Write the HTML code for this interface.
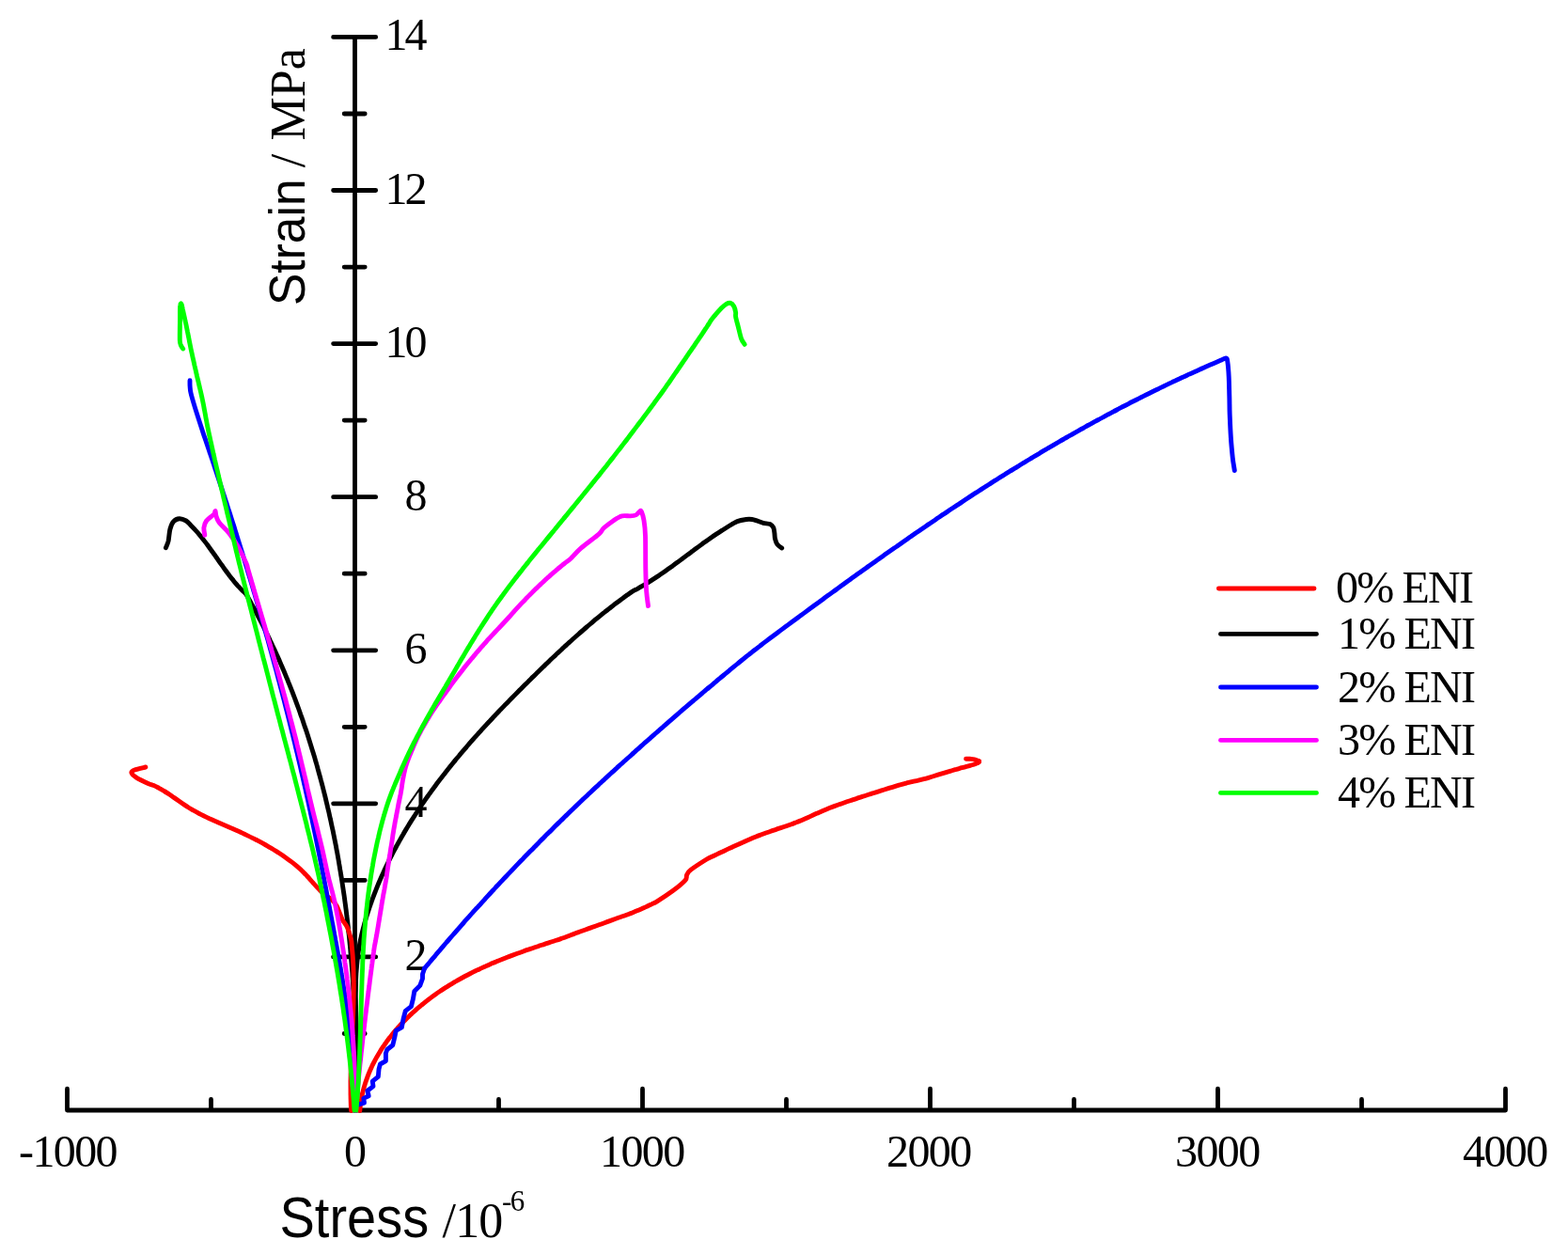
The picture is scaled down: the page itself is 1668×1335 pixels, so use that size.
<!DOCTYPE html>
<html lang="en">
<head>
<meta charset="utf-8">
<title>Stress-strain curves</title>
<style>
html,body{margin:0;padding:0;background:#fff;}
body{width:1668px;height:1335px;overflow:hidden;}
svg{display:block;}
.ser{font-family:"Liberation Serif",serif;fill:#000;}
.san{font-family:"Liberation Sans",sans-serif;fill:#000;}
.ax{stroke:#000;stroke-width:4.8;stroke-linecap:round;fill:none;}
.cv{fill:none;stroke-width:4.9;stroke-linecap:round;stroke-linejoin:round;}
</style>
</head>
<body>
<svg width="1668" height="1335" viewBox="0 0 1668 1335">
<rect width="1668" height="1335" fill="#fff"/>
<g class="axes"><path class="ax" d="M71.5,1181.0H1601.5M71.5,1181.0V1158.2M224.5,1181.0V1169.4M377.5,1181.0V1158.2M530.5,1181.0V1169.4M683.5,1181.0V1158.2M836.5,1181.0V1169.4M989.5,1181.0V1158.2M1142.5,1181.0V1169.4M1295.5,1181.0V1158.2M1448.5,1181.0V1169.4M1601.5,1181.0V1158.2M377.5,1181.0V39.4M366.2,1099.5H388.2M354.6,1017.9H399.7M366.2,936.4H388.2M354.6,854.8H399.7M366.2,773.3H388.2M354.6,691.8H399.7M366.2,610.2H388.2M354.6,528.7H399.7M366.2,447.1H388.2M354.6,365.6H399.7M366.2,284.1H388.2M354.6,202.5H399.7M366.2,121.0H388.2M354.6,39.4H399.7"/></g>
<g class="ser" font-size="48" letter-spacing="-1.6">
<text x="20.0" y="1241.0">-1000</text>
<text x="366.0" y="1241.0">0</text>
<text x="638.0" y="1241.0">1000</text>
<text x="943.0" y="1241.0">2000</text>
<text x="1250.0" y="1241.0">3000</text>
<text x="1556.0" y="1241.0">4000</text>
<text x="430.5" y="1031.9">2</text>
<text x="430.5" y="868.8">4</text>
<text x="430.5" y="705.8">6</text>
<text x="430.5" y="542.7">8</text>
<text x="409.5" y="379.6" letter-spacing="-3.1">10</text>
<text x="409.5" y="216.5" letter-spacing="-3.1">12</text>
<text x="409.5" y="53.4" letter-spacing="-3.1">14</text>
</g>
<text class="san" font-size="56" transform="translate(297.5,1315.9) scale(1,1.075)">Stress</text><text class="ser" font-size="52" letter-spacing="-0.8" x="470.5" y="1315.8">/10</text><text class="ser" font-size="31" letter-spacing="-1.5" x="534" y="1288.3">-6</text>
<g transform="translate(323.8,0) rotate(-90)"><text class="san" font-size="51.5" transform="translate(-325,0) scale(1,1.05)">Strain</text><text class="ser" font-size="52" x="-178.2" y="0">/</text><text class="ser" font-size="52" x="-149.5" y="0">MPa</text></g>
<g class="cv" stroke="#000000">
<path d="M377.5,1181.0C377.5,1180.0 377.6,1177.0 377.7,1174.9C377.7,1172.9 377.8,1170.9 377.8,1168.9C377.9,1166.9 377.9,1164.8 378.0,1162.8C378.0,1160.8 378.0,1158.8 378.1,1156.7C378.1,1154.7 378.1,1152.7 378.2,1150.7C378.2,1148.6 378.2,1146.6 378.2,1144.6C378.2,1142.5 378.2,1140.5 378.2,1138.5C378.2,1136.5 378.3,1134.4 378.2,1132.4C378.2,1130.4 378.2,1128.3 378.2,1126.3C378.2,1124.3 378.2,1122.2 378.2,1120.2C378.2,1118.2 378.1,1116.1 378.1,1114.1C378.1,1112.1 378.1,1110.0 378.0,1108.0C378.0,1106.0 377.9,1103.9 377.9,1101.9C377.9,1099.9 377.8,1097.8 377.8,1095.8C377.7,1093.8 377.6,1091.7 377.6,1089.7C377.5,1087.7 377.4,1085.6 377.4,1083.6C377.3,1081.5 377.2,1079.5 377.1,1077.5C377.1,1075.4 377.0,1073.4 376.9,1071.4C376.8,1069.3 376.7,1067.3 376.6,1065.2C376.5,1063.2 376.4,1061.2 376.3,1059.1C376.2,1057.1 376.1,1055.1 375.9,1053.0C375.8,1051.0 375.7,1048.9 375.6,1046.9C375.4,1044.9 375.3,1042.8 375.2,1040.8C375.0,1038.8 374.9,1036.7 374.8,1034.7C374.6,1032.7 374.5,1030.6 374.3,1028.6C374.1,1026.5 374.0,1024.5 373.8,1022.5C373.6,1020.4 373.5,1018.4 373.3,1016.4C373.1,1014.3 372.9,1012.3 372.8,1010.3C372.6,1008.2 372.4,1006.2 372.2,1004.2C372.0,1002.1 371.8,1000.1 371.6,998.1C371.4,996.0 371.2,994.0 370.9,992.0C370.7,989.9 370.5,987.9 370.3,985.9C370.0,983.9 369.8,981.8 369.6,979.8C369.3,977.8 369.1,975.7 368.8,973.7C368.6,971.7 368.3,969.7 368.1,967.6C367.8,965.6 367.6,963.6 367.3,961.6C367.0,959.5 366.7,957.5 366.5,955.5C366.2,953.5 365.9,951.4 365.6,949.4C365.3,947.4 365.0,945.4 364.7,943.4C364.4,941.4 364.1,939.3 363.8,937.3C363.5,935.3 363.2,933.3 362.8,931.3C362.5,929.3 362.2,927.2 361.8,925.2C361.5,923.2 361.2,921.2 360.8,919.2C360.5,917.2 360.1,915.2 359.8,913.2C359.4,911.2 359.1,909.1 358.7,907.1C358.3,905.1 357.9,903.1 357.6,901.1C357.2,899.1 356.8,897.1 356.4,895.1C356.0,893.1 355.6,891.1 355.2,889.1C354.8,887.1 354.4,885.1 354.0,883.1C353.6,881.1 353.1,879.1 352.7,877.2C352.3,875.2 351.9,873.2 351.4,871.2C351.0,869.2 350.5,867.2 350.1,865.2C349.6,863.2 349.2,861.2 348.7,859.3C348.3,857.3 347.8,855.3 347.3,853.3C346.8,851.3 346.4,849.4 345.9,847.4C345.4,845.4 344.9,843.4 344.4,841.5C343.9,839.5 343.4,837.5 342.9,835.5C342.4,833.6 341.9,831.6 341.3,829.6C340.8,827.7 340.3,825.7 339.7,823.8C339.2,821.8 338.7,819.8 338.1,817.9C337.6,815.9 337.0,814.0 336.5,812.0C335.9,810.1 335.3,808.1 334.8,806.1C334.2,804.2 333.6,802.3 333.0,800.3C332.4,798.4 331.8,796.4 331.2,794.5C330.6,792.5 330.0,790.6 329.4,788.7C328.8,786.7 328.2,784.8 327.6,782.9C326.9,780.9 326.3,779.0 325.7,777.1C325.0,775.1 324.4,773.2 323.7,771.3C323.1,769.4 322.4,767.4 321.8,765.5C321.1,763.6 320.4,761.7 319.7,759.8C319.1,757.9 318.4,755.9 317.7,754.0C317.0,752.1 316.3,750.2 315.6,748.3C314.9,746.4 314.2,744.5 313.5,742.6C312.7,740.7 312.0,738.8 311.3,736.9C310.6,735.0 309.8,733.1 309.1,731.3C308.3,729.4 307.6,727.5 306.8,725.6C306.1,723.7 305.3,721.8 304.5,720.0C303.7,718.1 303.0,716.2 302.2,714.3C301.4,712.5 300.6,710.6 299.8,708.7C299.0,706.9 298.2,705.0 297.4,703.1C296.6,701.3 295.7,699.4 294.9,697.6C294.1,695.7 293.2,693.9 292.4,692.0C291.6,690.2 290.7,688.3 289.8,686.5C289.0,684.6 288.1,682.8 287.2,681.0C286.4,679.1 285.5,677.3 284.6,675.5C283.7,673.6 282.8,671.8 281.9,670.0C281.0,668.2 280.1,666.3 279.2,664.5C278.3,662.7 277.4,660.9 276.4,659.1C275.5,657.3 274.6,655.5 273.6,653.7C272.7,651.9 271.7,650.1 270.8,648.3C269.8,646.5 268.8,644.7 267.8,642.9C266.9,641.1 265.9,639.3 264.9,637.5C263.9,635.8 263.2,633.9 261.9,632.2C260.6,630.5 258.7,629.1 257.1,627.5C255.5,625.9 254.0,624.2 252.5,622.6C251.1,620.9 249.6,619.2 248.2,617.4C246.8,615.7 245.4,614.0 244.0,612.2C242.7,610.4 241.3,608.6 240.0,606.8C238.7,605.0 237.4,603.1 236.1,601.3C234.7,599.5 233.4,597.6 232.2,595.8C230.9,593.9 229.6,592.1 228.3,590.2C227.0,588.4 225.7,586.6 224.3,584.7C223.0,582.9 221.7,581.1 220.4,579.3C219.0,577.5 217.7,575.7 216.3,573.9C214.9,572.1 213.5,570.4 212.0,568.6C210.6,566.9 209.1,565.2 207.6,563.6C206.1,561.9 204.5,560.3 202.9,558.7C201.3,557.1 200.0,555.1 198.0,554.0C196.0,552.9 193.0,551.7 190.8,551.8C188.6,551.9 186.2,553.0 184.5,554.9C182.8,556.8 181.8,559.6 180.9,563.0C180.0,566.4 179.8,572.2 179.1,575.5C178.3,578.8 176.8,581.5 176.4,582.7"/>
<path d="M378.5,1181.0C378.6,1180.0 379.0,1177.1 379.2,1175.1C379.4,1173.1 379.5,1171.1 379.7,1169.2C379.8,1167.2 380.0,1165.2 380.1,1163.2C380.2,1161.2 380.3,1159.2 380.4,1157.2C380.4,1155.2 380.5,1153.2 380.5,1151.2C380.6,1149.2 380.6,1147.2 380.6,1145.2C380.6,1143.2 380.6,1141.1 380.6,1139.1C380.6,1137.1 380.6,1135.1 380.6,1133.1C380.5,1131.0 380.5,1129.0 380.4,1127.0C380.4,1124.9 380.3,1122.9 380.3,1120.9C380.2,1118.8 380.1,1116.8 380.1,1114.8C380.0,1112.7 379.9,1110.7 379.8,1108.7C379.8,1106.6 379.7,1104.6 379.6,1102.5C379.5,1100.5 379.4,1098.5 379.3,1096.4C379.3,1094.4 379.2,1092.3 379.1,1090.3C379.0,1088.2 378.9,1086.2 378.9,1084.2C378.8,1082.1 378.7,1080.1 378.7,1078.0C378.6,1076.0 378.5,1074.0 378.5,1071.9C378.5,1069.9 378.4,1067.8 378.4,1065.8C378.4,1063.8 378.3,1061.7 378.3,1059.7C378.3,1057.7 378.3,1055.6 378.4,1053.6C378.4,1051.6 378.4,1049.5 378.5,1047.5C378.5,1045.5 378.6,1043.5 378.6,1041.5C378.7,1039.4 378.8,1037.4 378.9,1035.4C379.1,1033.4 379.2,1031.4 379.4,1029.4C379.5,1027.4 379.7,1025.4 379.9,1023.4C380.1,1021.4 380.3,1019.4 380.6,1017.4C380.8,1015.4 381.1,1013.4 381.4,1011.4C381.7,1009.5 382.0,1007.5 382.4,1005.5C382.7,1003.5 383.1,1001.6 383.5,999.6C383.9,997.7 384.4,995.7 384.8,993.8C385.3,991.8 385.8,989.9 386.3,987.9C386.8,986.0 387.3,984.0 387.8,982.1C388.4,980.2 388.9,978.2 389.5,976.3C390.1,974.4 390.7,972.5 391.3,970.5C391.9,968.6 392.6,966.7 393.2,964.8C393.9,962.9 394.5,961.0 395.2,959.1C395.9,957.2 396.6,955.3 397.3,953.4C398.0,951.5 398.7,949.6 399.5,947.7C400.2,945.9 401.0,944.0 401.7,942.1C402.5,940.2 403.3,938.4 404.1,936.5C404.9,934.7 405.7,932.8 406.5,931.0C407.4,929.1 408.2,927.3 409.1,925.4C409.9,923.6 410.8,921.7 411.7,919.9C412.5,918.1 413.4,916.3 414.3,914.4C415.2,912.6 416.1,910.8 417.1,909.0C418.0,907.2 418.9,905.4 419.9,903.6C420.9,901.8 421.8,900.0 422.8,898.3C423.8,896.5 424.8,894.7 425.8,892.9C426.8,891.2 427.8,889.4 428.8,887.7C429.8,885.9 430.8,884.2 431.9,882.4C432.9,880.7 433.9,879.0 435.0,877.2C436.1,875.5 437.1,873.8 438.2,872.1C439.3,870.4 440.4,868.7 441.5,867.0C442.6,865.3 443.7,863.6 444.8,861.9C445.9,860.2 447.0,858.6 448.1,856.9C449.3,855.2 450.4,853.6 451.6,851.9C452.7,850.3 453.9,848.6 455.0,847.0C456.2,845.3 457.4,843.7 458.5,842.1C459.7,840.4 460.9,838.8 462.1,837.2C463.3,835.6 464.5,833.9 465.7,832.3C466.9,830.7 468.1,829.1 469.4,827.5C470.6,825.9 471.8,824.3 473.1,822.8C474.3,821.2 475.5,819.6 476.8,818.0C478.1,816.4 479.3,814.9 480.6,813.3C481.8,811.7 483.1,810.2 484.4,808.6C485.7,807.1 487.0,805.5 488.3,804.0C489.5,802.4 490.8,800.9 492.1,799.4C493.5,797.8 494.8,796.3 496.1,794.8C497.4,793.3 498.7,791.7 500.0,790.2C501.4,788.7 502.7,787.2 504.0,785.7C505.4,784.2 506.7,782.7 508.1,781.2C509.4,779.7 510.8,778.2 512.1,776.7C513.5,775.2 514.8,773.7 516.2,772.2C517.6,770.7 518.9,769.2 520.3,767.8C521.7,766.3 523.1,764.8 524.4,763.3C525.8,761.9 527.2,760.4 528.6,758.9C530.0,757.5 531.4,756.0 532.8,754.6C534.2,753.1 535.6,751.7 537.0,750.2C538.4,748.7 539.8,747.3 541.2,745.9C542.6,744.4 544.0,743.0 545.5,741.5C546.9,740.1 548.3,738.6 549.7,737.2C551.2,735.8 552.6,734.3 554.0,732.9C555.4,731.5 556.9,730.0 558.3,728.6C559.7,727.2 561.2,725.8 562.6,724.3C564.0,722.9 565.5,721.5 566.9,720.1C568.4,718.7 569.8,717.3 571.2,715.8C572.7,714.4 574.1,713.0 575.6,711.6C577.0,710.2 578.5,708.8 579.9,707.4C581.4,706.0 582.9,704.6 584.3,703.2C585.8,701.8 587.2,700.4 588.7,699.0C590.2,697.6 591.6,696.2 593.1,694.8C594.6,693.5 596.1,692.1 597.6,690.7C599.0,689.3 600.5,688.0 602.0,686.6C603.5,685.2 605.0,683.9 606.5,682.5C608.0,681.2 609.5,679.8 611.0,678.5C612.5,677.1 614.0,675.8 615.5,674.5C617.0,673.1 618.5,671.8 620.1,670.5C621.6,669.1 623.1,667.8 624.7,666.5C626.2,665.2 627.7,663.9 629.3,662.6C630.8,661.3 632.4,660.0 633.9,658.7C635.5,657.4 637.0,656.2 638.6,654.9C640.2,653.6 641.7,652.3 643.3,651.1C644.9,649.8 646.5,648.6 648.1,647.3C649.6,646.1 651.2,644.9 652.8,643.6C654.4,642.4 656.1,641.2 657.7,640.0C659.3,638.8 660.9,637.6 662.5,636.4C664.2,635.2 665.8,634.0 667.4,632.8C669.1,631.6 670.6,630.4 672.4,629.3C674.2,628.2 676.2,627.3 678.1,626.3C679.9,625.3 681.8,624.2 683.6,623.1C685.5,622.1 687.3,621.0 689.1,619.8C690.9,618.7 692.7,617.6 694.5,616.4C696.3,615.3 698.1,614.1 699.9,612.9C701.6,611.7 703.4,610.5 705.2,609.3C706.9,608.1 708.7,606.8 710.4,605.6C712.1,604.4 713.9,603.1 715.6,601.9C717.3,600.6 719.1,599.3 720.8,598.1C722.5,596.8 724.2,595.5 726.0,594.2C727.7,593.0 729.4,591.7 731.1,590.4C732.8,589.1 734.5,587.9 736.3,586.6C738.0,585.3 739.7,584.0 741.4,582.8C743.2,581.5 744.9,580.2 746.6,579.0C748.3,577.7 750.1,576.5 751.8,575.2C753.6,574.0 755.3,572.8 757.1,571.5C758.8,570.3 760.6,569.1 762.4,567.9C764.2,566.8 766.0,565.6 767.8,564.4C769.6,563.3 771.4,562.1 773.2,561.0C775.0,559.9 776.8,558.8 778.7,557.7C780.6,556.7 781.8,555.5 784.3,554.6C786.8,553.7 791.3,552.9 793.9,552.5C796.5,552.1 797.9,552.2 799.9,552.5C801.9,552.8 803.9,553.6 805.9,554.2C807.9,554.9 809.7,555.8 811.9,556.4C814.1,557.0 817.3,556.8 819.1,557.6C820.9,558.4 821.9,559.6 822.7,561.2C823.5,562.8 823.6,565.1 823.9,567.1C824.2,569.1 824.0,571.1 824.5,573.1C825.0,575.1 825.7,577.5 826.9,579.1C828.1,580.8 830.9,582.4 831.7,583.0"/>
</g>
<g class="cv" stroke="#ff0000">
<path d="M373.6,1181.5C373.6,1180.5 373.4,1177.3 373.3,1175.2C373.2,1173.1 373.2,1171.0 373.1,1168.9C373.1,1166.8 373.0,1164.8 373.0,1162.7C373.0,1160.6 373.0,1158.5 373.0,1156.4C373.0,1154.3 373.0,1152.2 373.0,1150.1C373.0,1148.0 373.1,1145.9 373.1,1143.8C373.1,1141.7 373.2,1139.6 373.2,1137.5C373.3,1135.4 373.4,1133.3 373.4,1131.2C373.5,1129.1 373.6,1127.0 373.6,1124.9C373.7,1122.8 373.8,1120.7 373.9,1118.6C374.0,1116.6 374.1,1114.5 374.2,1112.4C374.3,1110.3 374.4,1108.2 374.5,1106.1C374.6,1104.0 374.7,1101.9 374.7,1099.8C374.8,1097.7 374.9,1095.6 375.0,1093.5C375.1,1091.4 375.2,1089.3 375.3,1087.2C375.4,1085.1 375.5,1083.0 375.6,1080.9C375.6,1078.8 375.7,1076.7 375.8,1074.6C375.9,1072.5 375.9,1070.4 376.0,1068.3C376.0,1066.3 376.1,1064.2 376.1,1062.1C376.2,1060.0 376.2,1057.9 376.2,1055.8C376.3,1053.7 376.3,1051.6 376.3,1049.5C376.3,1047.4 376.3,1045.3 376.2,1043.2C376.2,1041.1 376.2,1039.1 376.1,1037.0C376.1,1034.9 376.0,1032.8 376.0,1030.7C375.9,1028.6 375.8,1026.5 375.7,1024.4C375.6,1022.3 375.4,1020.3 375.3,1018.2C375.2,1016.1 375.0,1014.0 374.8,1011.9C374.6,1009.8 374.4,1007.7 374.2,1005.7C374.0,1003.6 374.3,1002.6 373.5,999.4C372.7,996.2 370.9,989.8 369.3,986.2C367.7,982.6 365.9,981.6 364.0,977.8C362.1,974.0 360.0,967.1 358.0,963.5C356.0,959.9 353.9,958.1 352.0,956.3C350.1,954.5 348.4,954.0 346.8,952.7C345.1,951.5 343.5,950.1 342.0,948.6C340.5,947.2 339.0,945.7 337.6,944.2C336.2,942.7 334.8,941.1 333.4,939.5C332.0,938.0 330.7,936.4 329.3,934.8C327.9,933.3 326.5,931.7 325.1,930.2C323.6,928.7 322.2,927.2 320.7,925.8C319.2,924.3 317.6,922.9 316.1,921.6C314.5,920.2 312.9,918.9 311.2,917.6C309.6,916.4 307.9,915.1 306.2,913.9C304.5,912.7 302.8,911.5 301.1,910.3C299.4,909.1 297.6,908.0 295.9,906.8C294.1,905.7 292.4,904.6 290.6,903.5C288.8,902.4 287.0,901.4 285.2,900.3C283.4,899.3 281.5,898.2 279.7,897.2C277.9,896.2 276.0,895.2 274.1,894.2C272.3,893.3 270.4,892.3 268.5,891.4C266.7,890.4 264.8,889.5 262.9,888.6C261.0,887.7 259.1,886.8 257.2,885.9C255.3,885.0 253.3,884.2 251.4,883.3C249.5,882.5 247.6,881.6 245.7,880.8C243.7,879.9 241.8,879.1 239.9,878.3C238.0,877.5 236.0,876.6 234.1,875.8C232.2,875.0 230.3,874.1 228.4,873.3C226.5,872.4 224.6,871.5 222.7,870.7C220.8,869.8 218.9,868.9 217.0,868.0C215.2,867.1 213.3,866.1 211.5,865.2C209.6,864.2 207.8,863.2 206.0,862.2C204.2,861.1 202.4,860.1 200.6,859.0C198.8,857.9 197.1,856.7 195.4,855.6C193.6,854.4 191.9,853.2 190.2,852.0C188.5,850.8 186.8,849.6 185.0,848.4C183.3,847.2 181.6,846.0 179.8,844.8C178.1,843.7 176.4,842.5 174.6,841.5C172.8,840.4 171.0,839.3 169.1,838.3C167.3,837.4 165.4,836.4 163.5,835.6C161.6,834.8 160.7,834.8 157.6,833.4C154.5,832.0 148.0,829.0 145.0,827.1C142.0,825.2 140.2,823.5 139.9,822.1C139.6,820.8 140.7,820.0 143.2,819.0C145.7,818.0 152.9,816.5 154.9,816.0"/>
<path d="M1041.4,809.8C1040.6,809.5 1038.1,808.2 1036.5,807.8C1034.9,807.4 1033.5,807.4 1032.0,807.3C1030.5,807.2 1028.3,807.2 1027.6,807.2"/>
<path d="M382.8,1181.5C382.9,1180.5 383.2,1177.4 383.4,1175.3C383.7,1173.3 384.0,1171.2 384.4,1169.2C384.7,1167.2 385.1,1165.2 385.6,1163.2C386.0,1161.2 386.5,1159.2 387.1,1157.3C387.6,1155.3 388.2,1153.4 388.8,1151.5C389.4,1149.6 390.1,1147.7 390.8,1145.8C391.5,1143.9 392.2,1142.0 393.0,1140.2C393.8,1138.3 394.6,1136.5 395.5,1134.6C396.3,1132.8 397.2,1131.0 398.2,1129.2C399.1,1127.5 400.1,1125.7 401.1,1123.9C402.1,1122.2 403.1,1120.5 404.2,1118.7C405.2,1117.0 406.3,1115.3 407.4,1113.7C408.6,1112.0 409.7,1110.3 410.9,1108.7C412.1,1107.0 413.3,1105.4 414.5,1103.8C415.8,1102.2 417.0,1100.6 418.3,1099.0C419.6,1097.5 420.9,1095.9 422.3,1094.4C423.6,1092.9 425.0,1091.4 426.3,1089.9C427.7,1088.4 429.1,1086.9 430.6,1085.5C432.0,1084.0 433.4,1082.6 434.9,1081.2C436.4,1079.7 437.9,1078.4 439.4,1077.0C440.9,1075.6 442.4,1074.2 443.9,1072.9C445.5,1071.6 447.1,1070.3 448.6,1069.0C450.2,1067.7 451.8,1066.4 453.4,1065.1C455.0,1063.9 456.7,1062.6 458.3,1061.4C459.9,1060.2 461.6,1059.0 463.3,1057.8C464.9,1056.6 466.6,1055.4 468.3,1054.3C470.0,1053.1 471.7,1052.0 473.4,1050.9C475.2,1049.8 476.9,1048.7 478.6,1047.6C480.4,1046.6 482.1,1045.5 483.9,1044.5C485.6,1043.5 487.4,1042.4 489.2,1041.5C491.0,1040.5 492.8,1039.5 494.6,1038.5C496.3,1037.6 498.2,1036.6 500.0,1035.7C501.8,1034.8 503.6,1033.9 505.4,1033.0C507.2,1032.1 509.1,1031.2 510.9,1030.4C512.7,1029.5 514.6,1028.7 516.4,1027.9C518.3,1027.0 520.2,1026.2 522.0,1025.4C523.9,1024.6 525.7,1023.8 527.6,1023.1C529.5,1022.3 531.4,1021.5 533.3,1020.8C535.1,1020.0 537.0,1019.3 538.9,1018.5C540.8,1017.8 542.7,1017.1 544.6,1016.4C546.5,1015.7 548.4,1015.0 550.3,1014.3C552.3,1013.6 554.2,1012.9 556.1,1012.2C558.0,1011.5 559.9,1010.8 561.8,1010.2C563.8,1009.5 565.7,1008.9 567.6,1008.2C569.5,1007.5 571.5,1006.9 573.4,1006.2C575.3,1005.6 577.3,1004.9 579.2,1004.3C581.1,1003.7 583.1,1003.0 585.0,1002.4C586.9,1001.8 588.9,1001.1 590.8,1000.5C592.8,999.9 594.7,999.3 596.6,998.6C598.6,997.9 600.5,997.3 602.5,996.5C604.4,995.8 606.3,995.1 608.3,994.3C610.2,993.6 612.2,992.9 614.1,992.1C616.0,991.4 618.0,990.7 619.9,990.0C621.8,989.3 623.8,988.6 625.7,987.9C627.6,987.2 629.6,986.5 631.5,985.8C633.4,985.2 635.3,984.5 637.2,983.8C639.2,983.1 641.1,982.4 643.0,981.7C644.9,981.0 646.8,980.3 648.7,979.6C650.6,978.9 652.5,978.2 654.4,977.5C656.3,976.8 658.2,976.1 660.1,975.5C662.0,974.8 663.9,974.2 665.8,973.5C667.7,972.8 669.5,972.1 671.4,971.4C673.3,970.6 675.1,969.9 677.0,969.1C678.9,968.3 680.7,967.5 682.6,966.7C684.4,965.9 686.2,965.0 688.1,964.2C689.9,963.3 691.7,962.5 693.6,961.6C695.4,960.7 695.3,961.1 699.0,958.8C702.7,956.5 710.8,951.2 715.8,947.5C720.8,943.8 726.5,939.1 729.0,936.3C731.5,933.5 729.6,932.6 730.6,930.7C731.6,928.9 731.5,928.0 735.0,925.2C738.5,922.4 748.1,916.3 751.8,914.0C755.5,911.7 755.5,912.2 757.3,911.3C759.2,910.4 761.0,909.5 762.9,908.6C764.8,907.7 766.6,906.9 768.5,906.0C770.3,905.1 772.2,904.3 774.0,903.4C775.9,902.5 777.8,901.7 779.6,900.8C781.5,900.0 783.4,899.1 785.3,898.3C787.1,897.4 789.0,896.6 790.9,895.8C792.8,894.9 794.6,894.1 796.5,893.3C798.4,892.5 800.3,891.6 802.2,890.8C804.0,890.1 805.9,889.3 807.8,888.6C809.7,887.9 811.6,887.2 813.5,886.5C815.4,885.8 817.3,885.2 819.2,884.5C821.1,883.8 823.0,883.2 824.9,882.6C826.8,881.9 828.7,881.3 830.6,880.7C832.5,880.1 834.4,879.5 836.3,878.8C838.2,878.1 840.1,877.4 842.0,876.7C843.9,876.0 845.8,875.2 847.7,874.5C849.6,873.7 851.6,873.0 853.5,872.2C855.4,871.4 857.3,870.6 859.2,869.7C861.1,868.8 863.1,867.9 865.0,867.0C866.9,866.1 868.8,865.3 870.8,864.4C872.7,863.6 874.6,862.7 876.5,861.9C878.5,861.1 880.4,860.3 882.3,859.5C884.3,858.8 886.2,858.1 888.1,857.4C890.1,856.7 892.0,856.0 893.9,855.3C895.9,854.7 897.8,854.0 899.7,853.3C901.7,852.6 903.6,852.0 905.6,851.3C907.5,850.7 909.5,850.0 911.4,849.4C913.3,848.7 915.3,848.1 917.2,847.4C919.2,846.8 921.1,846.2 923.1,845.5C925.0,844.9 927.0,844.3 928.9,843.7C930.9,843.0 932.8,842.4 934.8,841.8C936.7,841.2 938.7,840.6 940.6,840.0C942.6,839.4 944.6,838.8 946.5,838.2C948.5,837.6 950.4,837.0 952.4,836.4C954.3,835.8 956.3,835.2 958.3,834.7C960.2,834.1 962.2,833.6 964.1,833.1C966.1,832.6 968.1,832.2 970.0,831.7C972.0,831.2 974.0,830.8 975.9,830.4C977.9,829.9 979.9,829.4 981.8,828.9C983.8,828.4 985.8,827.9 987.7,827.3C989.7,826.7 991.7,826.1 993.6,825.5C995.6,824.9 997.6,824.3 999.5,823.7C1001.5,823.1 1003.5,822.5 1005.5,821.9C1007.4,821.3 1009.4,820.7 1011.4,820.1C1013.4,819.5 1015.3,818.9 1017.3,818.4C1019.3,817.8 1021.2,817.3 1023.2,816.7C1025.2,816.2 1027.2,815.6 1029.1,815.1C1031.1,814.5 1033.1,814.1 1035.1,813.5C1037.0,812.8 1039.9,811.7 1041.0,811.1C1042.1,810.5 1041.3,810.0 1041.4,809.8"/>
</g>
<g class="cv" stroke="#0000ff">
<path d="M377.5,1181.0C377.5,1180.0 377.5,1176.9 377.5,1174.9C377.4,1172.9 377.4,1170.8 377.4,1168.8C377.3,1166.8 377.3,1164.7 377.2,1162.7C377.1,1160.7 377.1,1158.7 377.0,1156.6C376.9,1154.6 376.8,1152.6 376.7,1150.6C376.6,1148.5 376.5,1146.5 376.4,1144.5C376.3,1142.5 376.1,1140.5 376.0,1138.4C375.9,1136.4 375.7,1134.4 375.6,1132.4C375.4,1130.4 375.3,1128.3 375.1,1126.3C374.9,1124.3 374.7,1122.3 374.6,1120.3C374.4,1118.3 374.2,1116.3 374.0,1114.2C373.8,1112.2 373.6,1110.2 373.4,1108.2C373.2,1106.2 372.9,1104.2 372.7,1102.2C372.5,1100.2 372.2,1098.2 372.0,1096.2C371.8,1094.2 371.5,1092.1 371.3,1090.1C371.0,1088.1 370.8,1086.1 370.5,1084.1C370.2,1082.1 370.0,1080.1 369.7,1078.1C369.4,1076.1 369.1,1074.1 368.9,1072.1C368.6,1070.1 368.3,1068.1 368.0,1066.1C367.7,1064.1 367.4,1062.1 367.1,1060.1C366.8,1058.1 366.5,1056.1 366.2,1054.1C365.9,1052.1 365.5,1050.1 365.2,1048.1C364.9,1046.1 364.6,1044.1 364.2,1042.1C363.9,1040.1 363.6,1038.1 363.2,1036.1C362.9,1034.1 362.6,1032.1 362.2,1030.1C361.9,1028.1 361.5,1026.2 361.2,1024.2C360.8,1022.2 360.5,1020.2 360.1,1018.2C359.8,1016.2 359.4,1014.2 359.1,1012.2C358.7,1010.2 358.4,1008.2 358.0,1006.2C357.6,1004.2 357.3,1002.2 356.9,1000.2C356.6,998.2 356.2,996.2 355.8,994.2C355.5,992.3 355.1,990.3 354.7,988.3C354.4,986.3 354.0,984.3 353.6,982.3C353.2,980.3 352.9,978.3 352.5,976.3C352.1,974.3 351.8,972.3 351.4,970.3C351.0,968.3 350.6,966.4 350.3,964.4C349.9,962.4 349.5,960.4 349.1,958.4C348.8,956.4 348.4,954.4 348.0,952.4C347.6,950.4 347.3,948.4 346.9,946.4C346.5,944.4 346.1,942.4 345.7,940.5C345.3,938.5 345.0,936.5 344.6,934.5C344.2,932.5 343.8,930.5 343.4,928.5C343.0,926.5 342.6,924.5 342.3,922.5C341.9,920.6 341.5,918.6 341.1,916.6C340.7,914.6 340.3,912.6 339.9,910.6C339.5,908.6 339.1,906.6 338.7,904.6C338.3,902.7 337.9,900.7 337.5,898.7C337.1,896.7 336.7,894.7 336.3,892.7C335.9,890.7 335.5,888.8 335.1,886.8C334.7,884.8 334.3,882.8 333.8,880.8C333.4,878.8 333.0,876.8 332.6,874.9C332.2,872.9 331.8,870.9 331.3,868.9C330.9,866.9 330.5,865.0 330.1,863.0C329.6,861.0 329.2,859.0 328.8,857.0C328.4,855.0 327.9,853.1 327.5,851.1C327.1,849.1 326.6,847.1 326.2,845.2C325.7,843.2 325.3,841.2 324.9,839.2C324.4,837.2 324.0,835.3 323.5,833.3C323.1,831.3 322.6,829.3 322.2,827.4C321.7,825.4 321.3,823.4 320.8,821.4C320.4,819.5 319.9,817.5 319.5,815.5C319.0,813.6 318.5,811.6 318.1,809.6C317.6,807.6 317.2,805.7 316.7,803.7C316.2,801.7 315.8,799.8 315.3,797.8C314.8,795.8 314.3,793.9 313.9,791.9C313.4,789.9 312.9,787.9 312.4,786.0C312.0,784.0 311.5,782.0 311.0,780.1C310.5,778.1 310.0,776.1 309.5,774.2C309.1,772.2 308.6,770.3 308.1,768.3C307.6,766.3 307.1,764.4 306.6,762.4C306.1,760.4 305.6,758.5 305.1,756.5C304.6,754.5 304.1,752.6 303.6,750.6C303.1,748.7 302.6,746.7 302.1,744.7C301.6,742.8 301.1,740.8 300.6,738.9C300.1,736.9 299.6,734.9 299.0,733.0C298.5,731.0 298.0,729.1 297.5,727.1C297.0,725.2 296.5,723.2 295.9,721.2C295.4,719.3 294.9,717.3 294.4,715.4C293.9,713.4 293.3,711.5 292.8,709.5C292.3,707.6 291.7,705.6 291.2,703.7C290.7,701.7 290.2,699.8 289.6,697.8C289.1,695.8 288.5,693.9 288.0,691.9C287.5,690.0 286.9,688.0 286.4,686.1C285.8,684.1 285.3,682.2 284.8,680.2C284.2,678.3 283.7,676.3 283.1,674.4C282.6,672.5 282.0,670.5 281.5,668.6C280.9,666.6 280.4,664.7 279.8,662.7C279.3,660.8 278.7,658.8 278.1,656.9C277.6,654.9 277.0,653.0 276.5,651.0C275.9,649.1 275.3,647.2 274.8,645.2C274.2,643.3 273.6,641.3 273.1,639.4C272.5,637.4 271.9,635.5 271.4,633.6C270.8,631.6 270.2,629.7 269.6,627.7C269.1,625.8 268.5,623.9 267.9,621.9C267.3,620.0 266.7,618.0 266.2,616.1C265.6,614.2 265.0,612.2 264.4,610.3C263.8,608.3 263.2,606.4 262.7,604.5C262.1,602.5 261.5,600.6 260.9,598.7C260.3,596.7 259.7,594.8 259.1,592.9C258.5,590.9 257.9,589.0 257.3,587.0C256.7,585.1 256.1,583.2 255.5,581.2C254.9,579.3 254.3,577.4 253.7,575.4C253.1,573.5 252.5,571.6 251.9,569.6C251.3,567.7 250.7,565.8 250.1,563.9C249.5,561.9 248.9,560.0 248.3,558.1C247.6,556.1 247.0,554.2 246.4,552.3C245.8,550.3 245.2,548.4 244.6,546.5C244.0,544.6 243.3,542.6 242.7,540.7C242.1,538.8 241.5,536.9 240.9,534.9C240.2,533.0 239.6,531.1 239.0,529.1C238.4,527.2 237.7,525.3 237.1,523.4C236.5,521.4 235.8,519.5 235.2,517.6C234.6,515.7 233.9,513.8 233.3,511.8C232.7,509.9 232.0,508.0 231.4,506.1C230.8,504.1 230.1,502.2 229.5,500.3C228.9,498.4 228.2,496.5 227.6,494.5C226.9,492.6 226.3,490.7 225.7,488.8C225.0,486.8 224.4,484.9 223.7,483.0C223.1,481.1 222.4,479.2 221.8,477.3C221.1,475.3 220.5,473.4 219.8,471.5C219.2,469.6 218.5,467.7 217.9,465.7C217.2,463.8 217.7,465.6 215.9,460.0C214.1,454.4 209.0,438.9 206.9,431.9C204.8,424.9 203.8,421.5 203.0,418.0C202.2,414.5 202.3,413.2 202.1,411.0C201.9,408.8 202.0,405.8 202.0,404.8"/>
<path d="M380.8,1175.1L387.5,1173.1L386.8,1168.4L392.2,1165.7L390.9,1160.3L397.0,1155.6L396.3,1150.2L402.3,1145.4L403.0,1137.4L404.4,1132.0L410.4,1128.6L410.4,1120.5L411.8,1116.5L417.8,1111.8L419.9,1103.0L421.2,1096.3L427.3,1092.9L429.3,1082.8L431.3,1075.4L437.4,1070.6L439.4,1062.6L440.8,1054.5L446.8,1048.4L449.5,1041.0L449.5,1036.3L451.5,1030.2"/>
<path d="M451.5,1030.2C452.1,1029.4 454.1,1027.1 455.4,1025.6C456.7,1024.0 458.0,1022.5 459.3,1020.9C460.6,1019.4 461.9,1017.8 463.2,1016.3C464.5,1014.7 465.8,1013.2 467.1,1011.7C468.4,1010.1 469.7,1008.6 471.0,1007.1C472.3,1005.5 473.6,1004.0 474.9,1002.5C476.3,1001.0 477.6,999.4 478.9,997.9C480.2,996.4 481.5,994.9 482.9,993.4C484.2,991.8 485.5,990.3 486.8,988.8C488.2,987.3 489.5,985.8 490.8,984.3C492.2,982.8 493.5,981.2 494.8,979.7C496.2,978.2 497.5,976.7 498.9,975.2C500.2,973.7 501.5,972.2 502.9,970.7C504.2,969.2 505.6,967.7 506.9,966.2C508.3,964.8 509.6,963.3 511.0,961.8C512.3,960.3 513.7,958.8 515.1,957.3C516.4,955.8 517.8,954.3 519.1,952.9C520.5,951.4 521.9,949.9 523.2,948.4C524.6,946.9 526.0,945.5 527.3,944.0C528.7,942.5 530.1,941.1 531.4,939.6C532.8,938.1 534.2,936.7 535.6,935.2C537.0,933.7 538.3,932.3 539.7,930.8C541.1,929.3 542.5,927.9 543.9,926.4C545.3,925.0 546.7,923.5 548.0,922.1C549.4,920.6 550.8,919.2 552.2,917.7C553.6,916.3 555.0,914.8 556.4,913.4C557.8,911.9 559.2,910.5 560.6,909.1C562.0,907.6 563.4,906.2 564.8,904.8C566.2,903.3 567.7,901.9 569.1,900.5C570.5,899.0 571.9,897.6 573.3,896.2C574.7,894.7 576.1,893.3 577.6,891.9C579.0,890.5 580.4,889.0 581.8,887.6C583.2,886.2 584.7,884.8 586.1,883.4C587.5,882.0 588.9,880.6 590.4,879.1C591.8,877.7 593.2,876.3 594.7,874.9C596.1,873.5 597.6,872.1 599.0,870.7C600.4,869.3 601.9,867.9 603.3,866.5C604.8,865.1 606.2,863.7 607.6,862.3C609.1,860.9 610.5,859.5 612.0,858.1C613.4,856.8 614.9,855.4 616.3,854.0C617.8,852.6 619.3,851.2 620.7,849.8C622.2,848.4 623.6,847.1 625.1,845.7C626.6,844.3 628.0,842.9 629.5,841.6C630.9,840.2 632.4,838.8 633.9,837.4C635.4,836.1 636.8,834.7 638.3,833.3C639.8,832.0 641.2,830.6 642.7,829.3C644.2,827.9 645.7,826.5 647.2,825.2C648.6,823.8 650.1,822.5 651.6,821.1C653.1,819.8 654.6,818.4 656.1,817.1C657.5,815.7 659.0,814.4 660.5,813.0C662.0,811.7 663.5,810.3 665.0,809.0C666.5,807.6 668.0,806.3 669.5,805.0C671.0,803.6 672.5,802.3 674.0,800.9C675.5,799.6 677.0,798.2 678.5,796.9C680.0,795.5 681.5,794.2 683.0,792.8C684.5,791.5 686.0,790.1 687.5,788.8C689.0,787.5 690.6,786.1 692.1,784.8C693.6,783.4 695.1,782.1 696.6,780.8C698.1,779.4 699.7,778.1 701.2,776.8C702.7,775.4 704.2,774.1 705.8,772.8C707.3,771.4 708.8,770.1 710.3,768.8C711.9,767.4 713.4,766.1 714.9,764.8C716.4,763.5 718.0,762.1 719.5,760.8C721.0,759.5 722.6,758.2 724.1,756.8C725.7,755.5 727.2,754.2 728.7,752.9C730.3,751.6 731.8,750.3 733.4,748.9C734.9,747.6 736.4,746.3 738.0,745.0C739.5,743.7 741.1,742.4 742.6,741.1C744.2,739.8 745.7,738.5 747.3,737.1C748.8,735.8 750.4,734.5 751.9,733.2C753.5,731.9 755.0,730.6 756.6,729.3C758.2,728.0 759.7,726.6 761.3,725.3C762.8,724.0 764.4,722.7 766.0,721.4C767.5,720.1 769.1,718.8 770.7,717.5C772.2,716.2 773.8,714.9 775.4,713.6C776.9,712.3 778.5,711.0 780.1,709.7C781.6,708.4 783.2,707.1 784.8,705.9C786.3,704.6 787.9,703.3 789.5,702.0C791.1,700.8 792.7,699.5 794.2,698.2C795.8,697.0 797.4,695.7 799.0,694.5C800.5,693.2 802.1,692.0 803.7,690.8C805.3,689.5 806.9,688.3 808.5,687.1C810.0,685.9 811.6,684.6 813.2,683.4C814.8,682.2 816.4,681.0 818.0,679.8C819.6,678.6 821.2,677.4 822.8,676.2C824.4,675.0 826.0,673.8 827.5,672.7C829.1,671.5 830.7,670.3 832.3,669.1C833.9,667.9 835.5,666.7 837.1,665.6C838.7,664.4 840.3,663.2 841.9,662.0C843.5,660.8 845.1,659.7 846.7,658.5C848.3,657.3 849.9,656.1 851.5,654.9C853.2,653.8 854.8,652.6 856.4,651.4C858.0,650.2 859.6,649.0 861.2,647.8C862.8,646.7 864.4,645.5 866.0,644.3C867.6,643.1 869.2,641.9 870.9,640.7C872.5,639.5 874.1,638.4 875.7,637.2C877.3,636.0 878.9,634.8 880.6,633.6C882.2,632.5 883.8,631.3 885.4,630.1C887.0,628.9 888.6,627.7 890.3,626.6C891.9,625.4 893.5,624.2 895.1,623.0C896.8,621.9 898.4,620.7 900.0,619.5C901.6,618.3 903.3,617.2 904.9,616.0C906.5,614.8 908.1,613.7 909.8,612.5C911.4,611.3 913.0,610.2 914.7,609.0C916.3,607.8 917.9,606.7 919.5,605.5C921.2,604.3 922.8,603.2 924.4,602.0C926.1,600.8 927.7,599.7 929.4,598.5C931.0,597.4 932.6,596.2 934.3,595.0C935.9,593.9 937.5,592.7 939.2,591.6C940.8,590.4 942.5,589.2 944.1,588.1C945.8,586.9 947.4,585.8 949.1,584.6C950.7,583.5 952.3,582.3 954.0,581.2C955.6,580.0 957.3,578.9 958.9,577.7C960.6,576.5 962.2,575.4 963.9,574.2C965.5,573.1 967.2,571.9 968.9,570.8C970.5,569.6 972.2,568.5 973.8,567.3C975.5,566.2 977.1,565.1 978.8,563.9C980.5,562.8 982.1,561.6 983.8,560.5C985.4,559.4 987.1,558.2 988.8,557.1C990.4,555.9 992.1,554.8 993.8,553.7C995.4,552.6 997.1,551.4 998.8,550.3C1000.4,549.2 1002.1,548.0 1003.8,546.9C1005.4,545.8 1007.1,544.7 1008.8,543.6C1010.5,542.4 1012.1,541.3 1013.8,540.2C1015.5,539.1 1017.2,538.0 1018.9,536.9C1020.5,535.8 1022.2,534.7 1023.9,533.6C1025.6,532.4 1027.3,531.3 1028.9,530.2C1030.6,529.1 1032.3,528.0 1034.0,526.9C1035.7,525.8 1037.4,524.7 1039.1,523.7C1040.8,522.6 1042.4,521.5 1044.1,520.4C1045.8,519.3 1047.5,518.2 1049.2,517.1C1050.9,516.0 1052.6,515.0 1054.3,513.9C1056.0,512.8 1057.7,511.7 1059.4,510.7C1061.1,509.6 1062.8,508.5 1064.5,507.4C1066.2,506.4 1067.9,505.3 1069.6,504.2C1071.3,503.2 1073.0,502.1 1074.7,501.0C1076.5,500.0 1078.2,498.9 1079.9,497.9C1081.6,496.8 1083.3,495.8 1085.0,494.7C1086.7,493.7 1088.4,492.6 1090.2,491.6C1091.9,490.5 1093.6,489.5 1095.3,488.5C1097.0,487.4 1098.8,486.4 1100.5,485.3C1102.2,484.3 1103.9,483.3 1105.7,482.3C1107.4,481.2 1109.1,480.2 1110.8,479.2C1112.6,478.2 1114.3,477.1 1116.0,476.1C1117.8,475.1 1119.5,474.1 1121.2,473.1C1123.0,472.1 1124.7,471.1 1126.5,470.0C1128.2,469.0 1129.9,468.0 1131.7,467.0C1133.4,466.0 1135.2,465.0 1136.9,464.0C1138.6,463.0 1140.4,462.1 1142.1,461.1C1143.9,460.1 1145.6,459.1 1147.4,458.1C1149.1,457.1 1150.9,456.1 1152.7,455.2C1154.4,454.2 1156.2,453.2 1157.9,452.2C1159.7,451.3 1161.4,450.3 1163.2,449.3C1165.0,448.4 1166.7,447.4 1168.5,446.5C1170.2,445.5 1172.0,444.5 1173.8,443.6C1175.6,442.6 1177.3,441.7 1179.1,440.7C1180.9,439.8 1182.6,438.9 1184.4,437.9C1186.2,437.0 1188.0,436.0 1189.7,435.1C1191.5,434.2 1193.3,433.2 1195.1,432.3C1196.9,431.4 1198.6,430.5 1200.4,429.6C1202.2,428.6 1204.0,427.7 1205.8,426.8C1207.6,425.9 1209.4,425.0 1211.1,424.1C1212.9,423.2 1214.7,422.3 1216.5,421.4C1218.3,420.5 1220.1,419.6 1221.9,418.7C1223.7,417.8 1225.5,416.9 1227.3,416.0C1229.1,415.1 1230.9,414.2 1232.7,413.4C1234.5,412.5 1236.3,411.6 1238.2,410.7C1240.0,409.9 1241.8,409.0 1243.6,408.1C1245.4,407.3 1247.2,406.4 1249.0,405.6C1250.8,404.7 1252.7,403.8 1254.5,403.0C1256.3,402.1 1258.1,401.3 1260.0,400.5C1261.8,399.6 1263.6,398.8 1265.4,397.9C1267.3,397.1 1269.1,396.3 1270.9,395.5C1272.8,394.6 1274.6,393.8 1276.4,393.0C1278.3,392.2 1280.1,391.3 1281.9,390.5C1283.8,389.7 1285.6,388.9 1287.5,388.1C1289.3,387.3 1291.1,386.5 1293.0,385.7C1294.8,384.9 1296.7,384.1 1298.5,383.3C1300.4,382.5 1302.9,380.8 1304.1,381.0C1305.3,381.2 1305.3,381.2 1305.8,384.5C1306.3,387.8 1306.9,394.7 1307.2,400.8C1307.5,406.9 1307.6,414.3 1307.8,421.1C1308.0,427.9 1307.9,434.0 1308.2,441.5C1308.5,449.0 1308.9,458.5 1309.4,466.0C1309.9,473.5 1310.6,480.6 1311.2,486.4C1311.8,492.2 1313.0,498.2 1313.3,500.6"/>
</g>
<g class="cv" stroke="#ff00ff">
<path d="M377.9,1181.0C377.9,1180.0 377.9,1176.9 377.9,1174.9C377.9,1172.9 377.9,1170.8 377.9,1168.8C377.9,1166.8 377.9,1164.7 377.9,1162.7C377.8,1160.7 377.8,1158.6 377.8,1156.6C377.7,1154.6 377.7,1152.6 377.7,1150.5C377.6,1148.5 377.5,1146.5 377.5,1144.4C377.4,1142.4 377.4,1140.4 377.3,1138.4C377.2,1136.3 377.1,1134.3 377.0,1132.3C377.0,1130.3 376.9,1128.2 376.8,1126.2C376.7,1124.2 376.6,1122.2 376.5,1120.2C376.3,1118.1 376.2,1116.1 376.1,1114.1C376.0,1112.1 375.9,1110.1 375.7,1108.0C375.6,1106.0 375.5,1104.0 375.3,1102.0C375.2,1100.0 375.0,1097.9 374.9,1095.9C374.7,1093.9 374.5,1091.9 374.4,1089.9C374.2,1087.9 374.0,1085.9 373.9,1083.8C373.7,1081.8 373.5,1079.8 373.3,1077.8C373.1,1075.8 372.9,1073.8 372.7,1071.8C372.5,1069.7 372.3,1067.7 372.1,1065.7C371.9,1063.7 371.7,1061.7 371.5,1059.7C371.2,1057.7 371.0,1055.7 370.8,1053.7C370.5,1051.7 370.3,1049.7 370.1,1047.6C369.8,1045.6 369.6,1043.6 369.3,1041.6C369.1,1039.6 368.8,1037.6 368.6,1035.6C368.3,1033.6 368.0,1031.6 367.8,1029.6C367.5,1027.6 367.2,1025.6 366.9,1023.6C366.7,1021.6 366.4,1019.6 366.1,1017.6C365.8,1015.6 365.5,1013.6 365.2,1011.6C364.9,1009.6 364.6,1007.6 364.3,1005.6C364.0,1003.6 363.7,1001.6 363.4,999.6C363.1,997.6 362.7,995.6 362.4,993.6C362.1,991.6 361.8,989.6 361.4,987.6C361.1,985.6 360.7,983.6 360.4,981.6C360.0,979.6 359.6,977.7 359.3,975.7C358.9,973.7 358.5,971.7 358.1,969.7C357.7,967.7 357.3,965.7 356.9,963.7C356.5,961.7 356.1,959.7 355.6,957.7C355.2,955.7 354.7,953.8 354.2,951.8C353.7,949.8 353.2,947.8 352.6,945.8C352.1,943.8 351.6,941.8 351.1,939.8C350.5,937.9 350.0,935.9 349.5,933.9C349.1,931.9 348.6,929.9 348.2,927.9C347.8,925.9 347.3,924.0 346.9,922.0C346.5,920.0 346.0,918.0 345.6,916.0C345.2,914.0 344.7,912.1 344.3,910.1C343.9,908.1 343.4,906.1 343.0,904.1C342.5,902.2 342.1,900.2 341.6,898.2C341.1,896.2 340.7,894.2 340.2,892.3C339.7,890.3 339.2,888.3 338.7,886.3C338.2,884.4 337.8,882.4 337.3,880.4C336.8,878.4 336.3,876.5 335.8,874.5C335.3,872.5 334.8,870.5 334.3,868.6C333.8,866.6 333.3,864.6 332.8,862.6C332.3,860.7 331.9,858.7 331.4,856.7C330.9,854.7 330.4,852.8 330.0,850.8C329.5,848.8 329.1,846.9 328.6,844.9C328.1,842.9 327.7,840.9 327.2,839.0C326.8,837.0 326.3,835.0 325.9,833.1C325.4,831.1 325.0,829.1 324.5,827.2C324.0,825.2 323.6,823.2 323.1,821.3C322.6,819.3 322.2,817.3 321.7,815.4C321.2,813.4 320.8,811.4 320.3,809.5C319.8,807.5 319.4,805.5 318.9,803.6C318.4,801.6 317.9,799.7 317.5,797.7C317.0,795.7 316.5,793.8 316.0,791.8C315.6,789.8 315.1,787.9 314.6,785.9C314.1,784.0 313.6,782.0 313.1,780.0C312.6,778.1 312.1,776.1 311.6,774.2C311.1,772.2 310.6,770.2 310.1,768.3C309.6,766.3 309.0,764.4 308.5,762.4C308.0,760.5 307.5,758.5 307.0,756.5C306.5,754.6 305.9,752.6 305.4,750.7C304.9,748.7 304.4,746.8 303.9,744.8C303.3,742.8 302.8,740.9 302.3,738.9C301.7,737.0 301.2,735.0 300.7,733.1C300.1,731.1 299.6,729.2 299.1,727.2C298.5,725.3 298.0,723.3 297.5,721.4C296.9,719.4 296.4,717.5 295.8,715.5C295.3,713.6 294.7,711.6 294.2,709.7C293.6,707.7 293.1,705.8 292.5,703.8C292.0,701.9 291.4,699.9 290.8,698.0C290.3,696.0 289.7,694.1 289.1,692.1C288.6,690.2 288.0,688.2 287.4,686.3C286.9,684.3 286.3,682.4 285.7,680.4C285.2,678.5 284.6,676.5 284.0,674.6C283.5,672.6 282.9,670.7 282.3,668.8C281.8,666.8 281.2,664.9 280.6,662.9C280.0,661.0 279.5,659.0 278.9,657.1C278.3,655.2 277.8,653.2 277.2,651.3C276.6,649.3 276.1,647.4 275.5,645.4C274.9,643.5 274.3,641.6 273.8,639.6C273.2,637.7 272.6,635.7 272.1,633.8C271.5,631.9 270.9,629.9 270.4,628.0C269.8,626.0 269.2,624.1 268.7,622.2C268.1,620.2 267.5,618.3 267.0,616.3C266.4,614.4 265.8,612.5 265.3,610.5C264.7,608.6 264.2,606.6 263.6,604.7C263.0,602.8 263.7,602.9 261.9,598.9C260.1,594.9 255.9,586.2 252.9,580.9C249.9,575.6 247.2,571.6 243.9,567.4C240.6,563.2 235.4,558.9 233.1,555.8C230.8,552.7 230.7,551.0 230.0,549.0C229.3,547.0 229.4,543.8 229.1,543.5C228.8,543.2 228.5,546.2 228.0,547.0C227.5,547.8 227.3,547.3 225.9,548.5C224.5,549.7 221.1,551.9 219.6,554.0C218.1,556.1 217.2,558.7 216.9,561.2C216.6,563.7 217.7,567.9 217.8,569.2"/>
<path d="M378.5,1181.0C378.6,1180.0 378.8,1177.0 379.0,1175.0C379.2,1173.0 379.3,1170.9 379.5,1168.9C379.7,1166.9 379.9,1164.9 380.0,1162.9C380.2,1160.9 380.4,1158.9 380.6,1156.9C380.8,1154.9 381.0,1152.9 381.2,1150.9C381.3,1148.9 381.5,1146.9 381.7,1144.8C381.9,1142.8 382.1,1140.8 382.3,1138.8C382.5,1136.8 382.7,1134.8 382.9,1132.8C383.1,1130.8 383.4,1128.8 383.6,1126.8C383.8,1124.8 384.0,1122.8 384.2,1120.8C384.4,1118.8 384.6,1116.8 384.9,1114.8C385.1,1112.8 385.3,1110.8 385.5,1108.8C385.7,1106.7 386.0,1104.7 386.2,1102.7C386.4,1100.7 386.7,1098.7 386.9,1096.7C387.1,1094.7 387.4,1092.7 387.6,1090.7C387.8,1088.7 388.1,1086.7 388.3,1084.7C388.5,1082.7 388.8,1080.7 389.0,1078.7C389.3,1076.7 389.5,1074.7 389.7,1072.7C390.0,1070.7 390.2,1068.7 390.5,1066.7C390.7,1064.7 391.0,1062.7 391.2,1060.7C391.5,1058.7 391.7,1056.7 392.0,1054.7C392.2,1052.7 392.5,1050.7 392.8,1048.7C393.0,1046.7 393.3,1044.6 393.5,1042.6C393.8,1040.6 394.0,1038.6 394.3,1036.6C394.6,1034.6 394.8,1032.6 395.1,1030.6C395.3,1028.6 395.6,1026.6 395.9,1024.6C396.1,1022.6 396.4,1020.6 396.7,1018.6C396.9,1016.6 397.2,1014.6 397.5,1012.6C397.7,1010.6 398.1,1008.6 398.4,1006.5C398.8,1004.5 399.2,1002.5 399.6,1000.5C399.9,998.5 400.3,996.5 400.7,994.5C401.0,992.5 401.4,990.5 401.7,988.5C402.1,986.5 402.4,984.5 402.7,982.5C403.1,980.4 403.4,978.4 403.7,976.4C404.0,974.4 404.4,972.4 404.7,970.4C405.0,968.4 405.3,966.4 405.7,964.4C406.0,962.3 406.3,960.3 406.7,958.3C407.0,956.3 407.4,954.3 407.7,952.3C408.1,950.3 408.5,948.2 408.9,946.2C409.2,944.2 409.6,942.2 409.9,940.2C410.3,938.2 410.6,936.2 411.0,934.1C411.3,932.1 411.6,930.1 411.8,928.1C412.1,926.1 412.4,924.1 412.7,922.1C413.0,920.1 413.3,918.1 413.6,916.1C413.9,914.1 414.2,912.0 414.6,910.0C414.9,908.0 415.2,906.0 415.5,904.0C415.8,902.0 416.2,900.0 416.5,898.0C416.8,896.0 417.1,894.1 417.4,892.1C417.7,890.1 417.9,888.1 418.3,886.1C418.6,884.1 418.9,882.1 419.3,880.1C419.6,878.2 420.0,876.2 420.3,874.2C420.7,872.2 421.1,870.3 421.5,868.3C421.8,866.3 422.2,864.4 422.6,862.4C423.0,860.5 423.4,858.5 423.7,856.5C424.1,854.6 424.5,852.6 424.9,850.7C425.3,848.8 425.7,846.8 426.1,844.9C426.4,842.9 426.8,841.0 427.1,839.1C427.4,837.2 427.6,835.2 427.9,833.3C428.2,831.4 428.5,829.5 428.9,827.6C429.2,825.7 429.6,823.8 430.0,821.9C430.5,820.0 430.8,818.1 431.4,816.2C431.9,814.4 432.5,812.5 433.2,810.6C433.8,808.7 434.6,806.9 435.3,805.0C436.0,803.2 436.8,801.3 437.5,799.5C438.3,797.6 439.1,795.8 439.9,793.9C440.6,792.1 441.4,790.3 442.3,788.4C443.1,786.6 444.0,784.8 444.9,783.0C445.8,781.2 446.8,779.3 447.8,777.5C448.7,775.7 449.7,773.9 450.7,772.2C451.7,770.4 452.8,768.6 453.8,766.8C454.9,765.0 455.9,763.3 457.0,761.5C458.1,759.7 459.2,758.0 460.4,756.2C461.5,754.5 462.7,752.7 463.9,751.0C465.1,749.2 466.4,747.5 467.6,745.8C468.8,744.0 470.0,742.3 471.2,740.6C472.5,738.9 473.7,737.2 474.9,735.5C476.1,733.8 477.3,732.1 478.6,730.4C479.8,728.7 481.0,727.0 482.3,725.3C483.5,723.7 484.8,722.0 486.1,720.3C487.3,718.7 488.6,717.0 489.9,715.4C491.2,713.7 492.4,712.1 493.7,710.4C495.0,708.8 496.3,707.2 497.7,705.5C499.0,703.9 500.3,702.3 501.6,700.7C503.0,699.1 504.3,697.5 505.7,695.9C507.0,694.3 508.4,692.7 509.8,691.1C511.1,689.5 512.5,688.0 513.9,686.4C515.3,684.8 516.7,683.3 518.0,681.7C519.4,680.2 520.8,678.6 522.2,677.1C523.6,675.6 525.1,674.0 526.5,672.5C527.9,671.0 529.3,669.5 530.8,668.0C532.2,666.5 533.6,665.0 535.0,663.5C536.4,662.0 537.8,660.5 539.2,659.0C540.6,657.5 541.9,656.1 543.2,654.6C544.5,653.1 545.8,651.7 547.1,650.2C548.4,648.8 549.7,647.4 551.0,645.9C552.3,644.5 553.6,643.1 554.9,641.7C556.3,640.2 557.6,638.8 559.0,637.4C560.4,636.0 561.7,634.6 563.1,633.3C564.5,631.9 565.9,630.5 567.2,629.1C568.6,627.8 570.0,626.4 571.4,625.1C572.8,623.7 574.2,622.4 575.6,621.0C577.1,619.7 578.5,618.4 579.9,617.0C581.4,615.7 582.8,614.4 584.3,613.1C585.7,611.8 587.2,610.5 588.7,609.2C590.2,607.9 591.7,606.7 593.2,605.4C594.7,604.1 596.2,602.9 597.7,601.6C599.3,600.4 600.8,599.1 602.4,597.9C603.9,596.6 604.5,596.6 607.1,594.2C609.6,591.8 612.7,587.8 617.7,583.4C622.7,579.0 633.0,571.7 637.1,568.1C641.2,564.5 639.6,564.2 642.2,561.8C644.8,559.4 649.5,555.9 652.7,553.7C655.9,551.6 658.7,549.7 661.7,548.9C664.7,548.1 668.1,549.1 670.6,548.9C673.1,548.7 675.2,548.4 676.9,547.6C678.5,546.8 679.6,544.6 680.5,544.0C681.4,543.4 681.5,542.4 682.3,544.0C683.0,545.6 684.3,549.4 685.0,553.7C685.7,558.0 686.2,561.2 686.5,569.9C686.8,578.6 686.6,596.0 686.8,605.9C687.0,615.8 687.2,622.8 687.7,629.3C688.2,635.8 689.2,642.0 689.5,644.6"/>
</g>
<g class="cv" stroke="#00ff00">
<path d="M377.0,1181.0C376.9,1180.0 376.7,1177.0 376.5,1174.9C376.4,1172.9 376.2,1170.9 376.1,1168.9C375.9,1166.9 375.7,1164.8 375.6,1162.8C375.4,1160.8 375.2,1158.8 375.0,1156.8C374.8,1154.8 374.7,1152.7 374.5,1150.7C374.3,1148.7 374.1,1146.7 373.9,1144.7C373.7,1142.7 373.5,1140.7 373.3,1138.6C373.1,1136.6 372.8,1134.6 372.6,1132.6C372.4,1130.6 372.2,1128.6 372.0,1126.6C371.7,1124.6 371.5,1122.6 371.3,1120.6C371.0,1118.6 370.8,1116.6 370.6,1114.6C370.3,1112.5 370.1,1110.5 369.8,1108.5C369.6,1106.5 369.3,1104.5 369.1,1102.5C368.8,1100.5 368.6,1098.5 368.3,1096.5C368.0,1094.5 367.8,1092.5 367.5,1090.5C367.2,1088.5 367.0,1086.5 366.7,1084.5C366.4,1082.5 366.1,1080.5 365.8,1078.5C365.5,1076.5 365.3,1074.5 365.0,1072.5C364.7,1070.6 364.4,1068.6 364.1,1066.6C363.8,1064.6 363.5,1062.6 363.2,1060.6C362.9,1058.6 362.5,1056.6 362.2,1054.6C361.9,1052.6 361.6,1050.6 361.3,1048.6C361.0,1046.6 360.6,1044.7 360.3,1042.7C360.0,1040.7 359.7,1038.7 359.3,1036.7C359.0,1034.7 358.6,1032.7 358.3,1030.7C358.0,1028.7 357.6,1026.8 357.3,1024.8C356.9,1022.8 356.6,1020.8 356.2,1018.8C355.9,1016.8 355.5,1014.8 355.2,1012.9C354.8,1010.9 354.5,1008.9 354.1,1006.9C353.7,1004.9 353.4,1003.0 353.0,1001.0C352.6,999.0 352.3,997.0 351.9,995.0C351.5,993.0 351.1,991.1 350.7,989.1C350.4,987.1 350.0,985.1 349.6,983.2C349.2,981.2 348.8,979.2 348.4,977.2C348.0,975.2 347.7,973.3 347.3,971.3C346.9,969.3 346.5,967.3 346.1,965.4C345.7,963.4 345.3,961.4 344.9,959.4C344.4,957.5 344.0,955.5 343.6,953.5C343.2,951.5 342.8,949.6 342.4,947.6C342.0,945.6 341.6,943.6 341.1,941.7C340.7,939.7 340.3,937.7 339.9,935.8C339.5,933.8 339.0,931.8 338.6,929.8C338.2,927.9 337.7,925.9 337.3,923.9C336.8,922.0 336.4,920.0 335.9,918.0C335.5,916.1 335.0,914.1 334.6,912.1C334.1,910.1 333.6,908.2 333.2,906.2C332.7,904.2 332.2,902.3 331.8,900.3C331.3,898.3 330.8,896.4 330.3,894.4C329.8,892.4 329.4,890.5 328.9,888.5C328.4,886.5 327.9,884.6 327.4,882.6C326.9,880.7 326.4,878.7 326.0,876.7C325.5,874.8 325.0,872.8 324.5,870.8C324.0,868.9 323.5,866.9 323.0,864.9C322.5,863.0 322.0,861.0 321.5,859.0C321.0,857.1 320.5,855.1 320.0,853.2C319.5,851.2 319.0,849.2 318.5,847.3C318.0,845.3 317.5,843.4 317.0,841.4C316.5,839.4 316.0,837.5 315.5,835.5C315.0,833.5 314.5,831.6 314.0,829.6C313.5,827.7 313.0,825.7 312.5,823.7C312.0,821.8 311.4,819.8 310.9,817.9C310.4,815.9 309.9,813.9 309.4,812.0C308.9,810.0 308.4,808.1 307.8,806.1C307.3,804.1 306.8,802.2 306.3,800.2C305.8,798.3 305.3,796.3 304.7,794.3C304.2,792.4 303.7,790.4 303.2,788.5C302.7,786.5 302.1,784.6 301.6,782.6C301.1,780.6 300.6,778.7 300.1,776.7C299.5,774.8 299.0,772.8 298.5,770.8C298.0,768.9 297.5,766.9 297.0,765.0C296.5,763.0 295.9,761.1 295.4,759.1C294.9,757.1 294.4,755.2 293.9,753.2C293.4,751.3 292.9,749.3 292.4,747.4C291.9,745.4 291.3,743.4 290.8,741.5C290.3,739.5 289.8,737.6 289.3,735.6C288.8,733.7 288.3,731.7 287.8,729.7C287.3,727.8 286.8,725.8 286.3,723.9C285.8,721.9 285.3,720.0 284.8,718.0C284.3,716.0 283.8,714.1 283.3,712.1C282.8,710.2 282.3,708.2 281.8,706.3C281.3,704.3 280.8,702.3 280.2,700.4C279.7,698.4 279.2,696.5 278.7,694.5C278.2,692.6 277.7,690.6 277.2,688.6C276.7,686.7 276.2,684.7 275.7,682.8C275.2,680.8 274.7,678.9 274.2,676.9C273.7,674.9 273.2,673.0 272.7,671.0C272.2,669.1 271.7,667.1 271.2,665.2C270.7,663.2 270.2,661.2 269.7,659.3C269.2,657.3 268.7,655.4 268.2,653.4C267.7,651.5 267.2,649.5 266.7,647.5C266.2,645.6 265.7,643.6 265.2,641.7C264.7,639.7 264.2,637.7 263.7,635.8C263.2,633.8 262.7,631.9 262.2,629.9C261.7,628.0 261.2,626.0 260.7,624.0C260.2,622.1 259.7,620.1 259.2,618.2C258.7,616.2 258.2,614.2 257.7,612.3C257.2,610.3 256.8,608.4 256.3,606.4C255.8,604.5 255.3,602.5 254.8,600.5C254.3,598.6 253.9,596.6 253.4,594.7C252.9,592.7 252.4,590.7 252.0,588.8C251.5,586.8 251.0,584.9 250.6,582.9C250.1,580.9 249.6,579.0 249.2,577.0C248.7,575.1 248.2,573.1 247.8,571.2C247.3,569.2 246.8,567.2 246.4,565.3C245.9,563.3 245.4,561.4 245.0,559.4C244.5,557.4 244.1,555.5 243.6,553.5C243.1,551.6 242.7,549.6 242.2,547.6C241.7,545.7 241.3,543.7 240.8,541.7C240.4,539.8 239.9,537.8 239.4,535.9C239.0,533.9 238.5,531.9 238.0,530.0C237.6,528.0 237.1,526.1 236.7,524.1C236.2,522.1 235.7,520.2 235.3,518.2C234.8,516.3 234.4,514.3 233.9,512.3C233.4,510.4 233.0,508.4 232.5,506.4C232.1,504.5 231.6,502.5 231.2,500.6C230.7,498.6 230.2,496.6 229.8,494.7C229.3,492.7 228.9,490.7 228.4,488.8C228.0,486.8 227.6,484.8 227.1,482.9C226.7,480.9 226.2,479.0 225.8,477.0C225.3,475.0 224.9,473.1 224.5,471.1C224.0,469.1 223.6,467.2 223.2,465.2C222.7,463.2 222.3,461.3 221.9,459.3C221.5,457.3 221.1,455.4 220.7,453.4C220.3,451.5 219.9,449.5 219.6,447.5C219.2,445.6 218.8,443.6 218.5,441.6C218.1,439.7 217.8,437.7 217.4,435.7C217.0,433.8 216.7,431.8 216.3,429.8C215.9,427.9 215.5,425.9 215.1,423.9C214.7,422.0 214.2,420.0 213.8,418.0C213.3,416.1 212.9,414.1 212.4,412.1C211.9,410.2 211.5,408.2 211.0,406.2C210.6,404.2 210.1,402.3 209.6,400.3C209.2,398.3 208.7,396.4 208.3,394.4C207.8,392.4 207.4,390.5 206.9,388.5C206.5,386.5 206.0,384.6 205.6,382.6C205.1,380.6 204.7,378.6 204.3,376.7C203.8,374.7 203.4,372.7 203.0,370.8C202.6,368.8 202.2,366.8 201.8,364.8C201.4,362.9 201.1,360.9 200.7,358.9C200.3,357.0 199.9,355.0 199.5,353.0C199.1,351.0 198.7,349.1 198.3,347.1C197.9,345.1 197.5,343.1 197.0,341.2C196.6,339.2 196.2,337.2 195.7,335.2C195.3,333.3 194.9,331.3 194.4,329.3C194.0,327.3 193.5,324.1 193.0,323.4C192.6,322.7 191.9,322.2 191.7,325.0C191.4,327.8 191.5,333.8 191.5,340.0C191.4,346.2 191.2,357.4 191.3,362.0C191.5,366.6 192.0,366.0 192.5,367.5C193.1,369.0 194.3,370.4 194.7,371.0"/>
<path d="M378.9,1181.0C379.0,1180.0 379.2,1177.1 379.4,1175.1C379.6,1173.1 379.7,1171.2 379.9,1169.2C380.0,1167.2 380.2,1165.2 380.3,1163.2C380.5,1161.3 380.6,1159.3 380.7,1157.3C380.8,1155.3 381.0,1153.3 381.1,1151.3C381.2,1149.3 381.3,1147.3 381.4,1145.3C381.5,1143.3 381.6,1141.3 381.7,1139.3C381.8,1137.3 381.9,1135.3 382.0,1133.3C382.1,1131.3 382.2,1129.3 382.3,1127.3C382.4,1125.3 382.5,1123.2 382.6,1121.2C382.6,1119.2 382.7,1117.2 382.8,1115.2C382.9,1113.2 382.9,1111.1 383.0,1109.1C383.1,1107.1 383.1,1105.1 383.2,1103.0C383.3,1101.0 383.3,1099.0 383.4,1096.9C383.5,1094.9 383.5,1092.9 383.6,1090.9C383.7,1088.8 383.7,1086.8 383.8,1084.8C383.8,1082.7 383.9,1080.7 384.0,1078.6C384.0,1076.6 384.1,1074.6 384.1,1072.5C384.2,1070.5 384.3,1068.4 384.3,1066.4C384.4,1064.4 384.4,1062.3 384.5,1060.3C384.6,1058.2 384.6,1056.2 384.7,1054.2C384.8,1052.1 384.8,1050.1 384.9,1048.0C385.0,1046.0 385.0,1043.9 385.1,1041.9C385.2,1039.9 385.3,1037.8 385.3,1035.8C385.4,1033.7 385.5,1031.7 385.6,1029.6C385.7,1027.6 385.7,1025.6 385.8,1023.5C385.9,1021.5 386.0,1019.4 386.1,1017.4C386.2,1015.3 386.3,1013.3 386.4,1011.3C386.5,1009.2 386.6,1007.2 386.8,1005.1C386.9,1003.1 387.0,1001.1 387.1,999.0C387.3,997.0 387.4,995.0 387.6,992.9C387.8,990.9 387.9,988.8 388.1,986.8C388.3,984.8 388.5,982.8 388.6,980.7C388.8,978.7 389.0,976.7 389.2,974.6C389.4,972.6 389.6,970.6 389.8,968.6C390.0,966.5 390.3,964.5 390.5,962.5C390.7,960.5 390.9,958.4 391.2,956.4C391.4,954.4 391.7,952.4 391.9,950.4C392.2,948.4 392.5,946.4 392.7,944.4C393.0,942.3 393.3,940.3 393.6,938.3C393.9,936.3 394.2,934.3 394.5,932.3C394.8,930.3 395.1,928.3 395.5,926.3C395.8,924.3 396.1,922.4 396.5,920.4C396.8,918.4 397.2,916.4 397.5,914.4C397.9,912.4 398.3,910.5 398.7,908.5C399.1,906.5 399.5,904.5 399.9,902.6C400.3,900.6 400.7,898.6 401.1,896.7C401.6,894.7 402.0,892.7 402.5,890.8C402.9,888.8 403.4,886.9 403.8,884.9C404.3,883.0 404.8,881.0 405.3,879.1C405.8,877.1 406.3,875.2 406.8,873.3C407.4,871.3 407.9,869.4 408.5,867.5C409.0,865.6 409.6,863.6 410.2,861.7C410.8,859.8 411.4,857.9 412.0,856.0C412.6,854.1 413.2,852.2 413.9,850.3C414.6,848.4 415.3,846.5 416.0,844.6C416.7,842.7 417.5,840.8 418.3,838.9C419.0,837.0 419.8,835.2 420.6,833.3C421.4,831.4 422.2,829.6 423.0,827.7C423.8,825.8 424.6,824.0 425.4,822.1C426.2,820.3 427.0,818.4 427.8,816.6C428.6,814.7 429.5,812.9 430.3,811.1C431.1,809.2 432.0,807.4 432.8,805.6C433.7,803.7 434.6,801.9 435.4,800.1C436.3,798.3 437.2,796.5 438.1,794.6C439.0,792.8 439.9,791.0 440.8,789.2C441.8,787.4 442.7,785.6 443.6,783.8C444.6,782.0 445.5,780.2 446.5,778.4C447.4,776.6 448.4,774.8 449.3,773.0C450.3,771.2 451.3,769.4 452.3,767.7C453.2,765.9 454.2,764.1 455.3,762.3C456.3,760.5 457.3,758.7 458.3,757.0C459.3,755.2 460.4,753.4 461.4,751.6C462.4,749.9 463.5,748.1 464.5,746.3C465.6,744.5 466.6,742.8 467.6,741.0C468.7,739.2 469.7,737.5 470.7,735.7C471.8,733.9 472.8,732.2 473.9,730.4C474.9,728.6 475.9,726.9 477.0,725.1C478.0,723.3 479.0,721.6 480.1,719.8C481.1,718.0 482.1,716.3 483.2,714.5C484.2,712.7 485.2,711.0 486.2,709.2C487.3,707.5 488.3,705.7 489.3,703.9C490.4,702.2 491.4,700.4 492.4,698.7C493.5,696.9 494.5,695.2 495.5,693.4C496.6,691.7 497.6,689.9 498.7,688.2C499.7,686.5 500.8,684.7 501.8,683.0C502.9,681.2 503.9,679.5 505.0,677.8C506.0,676.1 507.1,674.3 508.2,672.6C509.3,670.9 510.3,669.2 511.4,667.5C512.5,665.8 513.6,664.1 514.7,662.4C515.8,660.7 516.9,659.0 518.0,657.3C519.1,655.6 520.2,653.9 521.4,652.2C522.5,650.5 523.7,648.9 524.8,647.2C526.0,645.5 527.1,643.9 528.3,642.2C529.4,640.5 530.6,638.9 531.8,637.3C533.0,635.6 534.2,634.0 535.4,632.3C536.6,630.7 537.8,629.1 539.0,627.4C540.2,625.8 541.4,624.2 542.6,622.6C543.9,620.9 545.1,619.3 546.3,617.7C547.6,616.1 548.8,614.5 550.1,612.9C551.3,611.3 552.5,609.7 553.8,608.1C555.1,606.5 556.3,604.9 557.6,603.3C558.8,601.7 560.1,600.2 561.4,598.6C562.6,597.0 563.9,595.4 565.2,593.8C566.4,592.3 567.7,590.7 569.0,589.1C570.3,587.5 571.5,586.0 572.8,584.4C574.1,582.8 575.4,581.3 576.7,579.7C577.9,578.2 579.2,576.6 580.5,575.0C581.8,573.5 583.1,571.9 584.3,570.4C585.6,568.8 586.9,567.2 588.2,565.7C589.4,564.1 590.7,562.6 592.0,561.0C593.2,559.5 594.5,557.9 595.8,556.4C597.1,554.8 598.3,553.3 599.6,551.7C600.9,550.2 602.1,548.6 603.4,547.1C604.7,545.5 605.9,544.0 607.2,542.4C608.5,540.9 609.7,539.3 611.0,537.8C612.3,536.2 613.5,534.7 614.8,533.1C616.1,531.6 617.3,530.0 618.6,528.5C619.8,526.9 621.1,525.4 622.4,523.8C623.6,522.3 624.9,520.7 626.1,519.2C627.4,517.6 628.7,516.1 629.9,514.5C631.2,512.9 632.4,511.4 633.7,509.8C634.9,508.3 636.2,506.7 637.5,505.1C638.7,503.6 640.0,502.0 641.2,500.4C642.5,498.8 643.7,497.3 645.0,495.7C646.2,494.1 647.5,492.5 648.7,490.9C649.9,489.4 651.2,487.8 652.4,486.2C653.7,484.6 654.9,483.0 656.1,481.4C657.3,479.8 658.6,478.3 659.8,476.7C661.0,475.1 662.3,473.5 663.5,471.9C664.7,470.3 665.9,468.7 667.2,467.1C668.4,465.5 669.6,463.9 670.8,462.3C672.0,460.7 673.3,459.1 674.5,457.4C675.7,455.8 676.9,454.2 678.1,452.6C679.4,451.0 680.6,449.4 681.8,447.8C683.0,446.2 684.2,444.5 685.4,442.9C686.6,441.3 687.8,439.7 689.0,438.1C690.2,436.4 691.4,434.8 692.6,433.2C693.8,431.6 695.0,430.0 696.2,428.3C697.4,426.7 698.6,425.1 699.8,423.4C701.0,421.8 702.2,420.2 703.4,418.5C704.6,416.9 705.7,415.3 706.9,413.6C708.0,412.0 709.2,410.4 710.3,408.7C711.5,407.1 712.6,405.5 713.7,403.8C714.8,402.2 716.0,400.5 717.1,398.9C718.2,397.3 719.3,395.6 720.5,394.0C721.6,392.3 722.7,390.7 723.9,389.0C725.0,387.4 726.1,385.8 727.2,384.1C728.4,382.5 729.5,380.8 730.6,379.2C731.7,377.5 732.9,375.9 734.0,374.2C735.1,372.6 736.2,370.9 737.4,369.3C738.5,367.6 739.6,366.0 740.7,364.3C741.9,362.7 743.0,361.0 744.1,359.4C745.2,357.7 746.4,356.0 747.5,354.4C748.6,352.7 749.7,351.1 750.8,349.4C751.9,347.8 752.9,346.1 754.0,344.5C755.1,342.8 755.0,342.3 757.2,339.5C759.4,336.7 764.8,330.5 767.4,327.8C770.0,325.1 771.1,324.2 772.7,323.3C774.3,322.4 775.9,321.9 777.2,322.4C778.6,322.8 779.9,324.4 780.8,326.0C781.7,327.6 782.3,330.5 782.6,332.3C782.9,334.1 782.2,334.2 782.6,336.8C783.0,339.4 784.3,343.7 785.3,347.6C786.3,351.5 787.4,357.0 788.5,360.1C789.6,363.2 791.5,365.3 792.1,366.4"/>
</g>
<g class="legend">
<path class="cv" stroke="#ff0000" d="M1296.4,626.0H1398.0"/><text class="ser" font-size="48" letter-spacing="-1.8" x="1421.0" y="641.3">0% ENI</text>
<path class="cv" stroke="#000000" d="M1298.5,674.4H1400.4"/><text class="ser" font-size="48" letter-spacing="-1.8" x="1423.0" y="690.2">1% ENI</text>
<path class="cv" stroke="#0000ff" d="M1298.5,731.0H1400.4"/><text class="ser" font-size="48" letter-spacing="-1.8" x="1423.0" y="746.8">2% ENI</text>
<path class="cv" stroke="#ff00ff" d="M1298.5,787.4H1400.4"/><text class="ser" font-size="48" letter-spacing="-1.8" x="1423.0" y="803.2">3% ENI</text>
<path class="cv" stroke="#00ff00" d="M1298.5,843.4H1400.4"/><text class="ser" font-size="48" letter-spacing="-1.8" x="1423.0" y="859.2">4% ENI</text>
</g>
</svg>
</body>
</html>
